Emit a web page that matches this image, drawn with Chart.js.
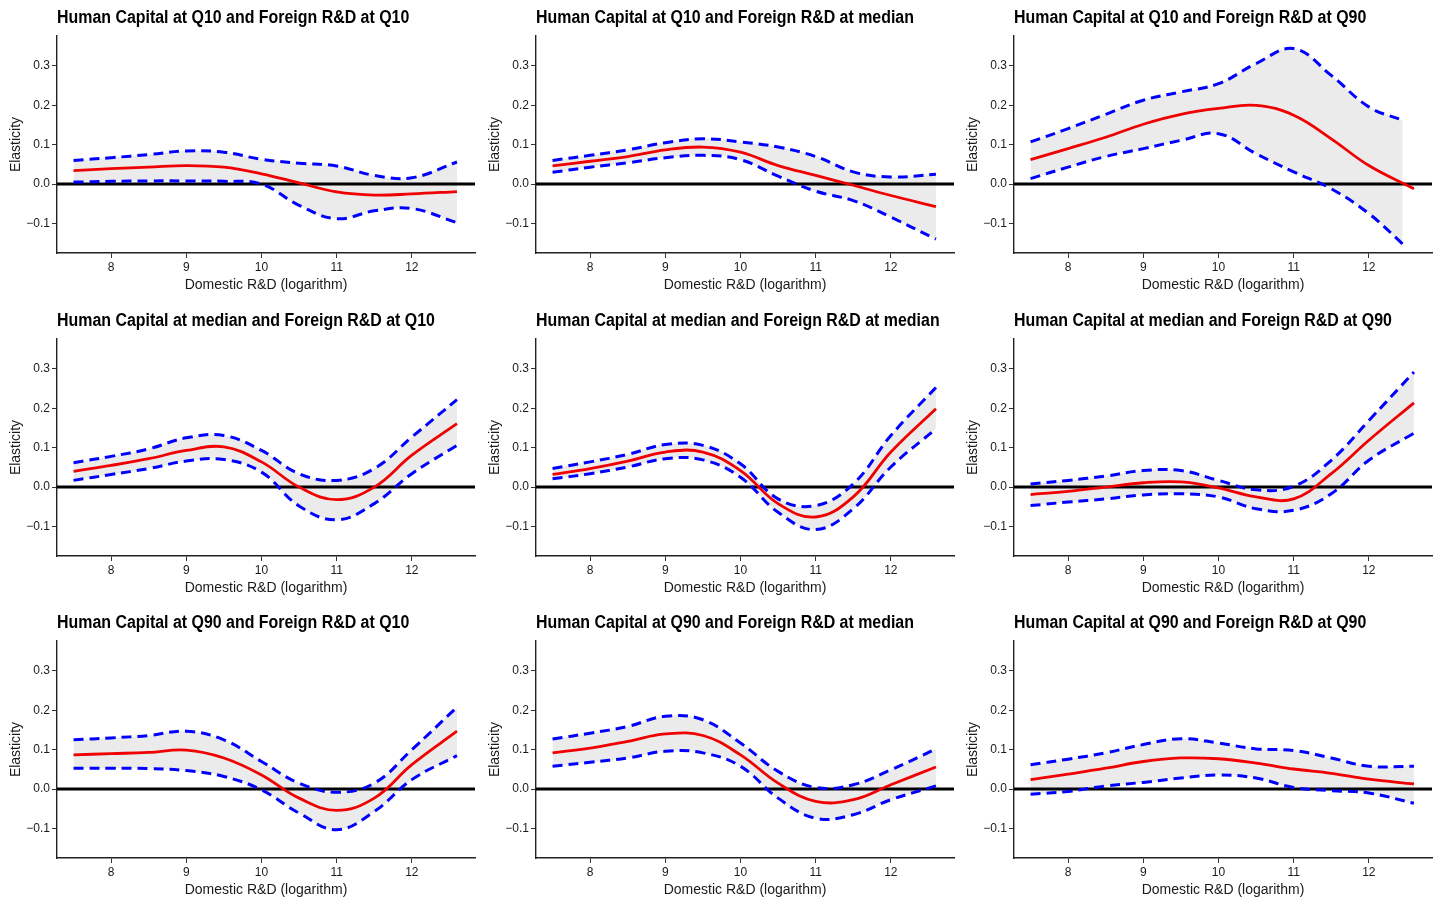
<!DOCTYPE html>
<html>
<head>
<meta charset="utf-8">
<script src="https://cdn.jsdelivr.net/npm/chart.js@4.4.1/dist/chart.umd.min.js"></script>
<style>
  html, body { margin: 0; padding: 0; background: #fff; overflow: hidden; }
  body { position: relative; width: 1442px; height: 904px; }
  canvas { position: absolute; }
</style>
</head>
<body>
<script>
// Domestic R&D grid (logarithm)
const xs = [7.5, 8, 8.5, 9, 9.5, 10, 10.5, 11, 11.5, 12, 12.6]
const xsShort = [7.5, 8, 8.5, 9, 9.5, 10, 10.5, 11, 11.5, 12, 12.45]

const xTicks = [8, 9, 10, 11, 12]
const yTicks = [-0.1, 0.0, 0.1, 0.2, 0.3]

const panelTitles = [
    "Human Capital at Q10 and Foreign R&D at Q10",
    "Human Capital at Q10 and Foreign R&D at median",
    "Human Capital at Q10 and Foreign R&D at Q90",
    "Human Capital at median and Foreign R&D at Q10",
    "Human Capital at median and Foreign R&D at median",
    "Human Capital at median and Foreign R&D at Q90",
    "Human Capital at Q90 and Foreign R&D at Q10",
    "Human Capital at Q90 and Foreign R&D at median",
    "Human Capital at Q90 and Foreign R&D at Q90"
]

// Row 1: Human Capital at Q10
const q10q10Fit = [0.034, 0.039, 0.043, 0.047, 0.043, 0.026, 0.003, -0.020, -0.028, -0.025, -0.019]
const q10q10Upper = [0.060, 0.067, 0.075, 0.084, 0.081, 0.063, 0.053, 0.046, 0.022, 0.016, 0.056]
const q10q10Lower = [0.005, 0.007, 0.008, 0.008, 0.007, 0.000, -0.054, -0.088, -0.068, -0.062, -0.098]

const q10medFit = [0.046, 0.058, 0.070, 0.087, 0.094, 0.081, 0.047, 0.022, -0.003, -0.029, -0.057]
const q10medUpper = [0.060, 0.073, 0.087, 0.105, 0.115, 0.107, 0.094, 0.070, 0.031, 0.018, 0.025]
const q10medLower = [0.030, 0.043, 0.054, 0.067, 0.073, 0.062, 0.020, -0.018, -0.042, -0.084, -0.140]

const q10q90Fit = [0.062, 0.090, 0.119, 0.152, 0.177, 0.192, 0.200, 0.175, 0.115, 0.047, -0.012]
const q10q90Upper = [0.107, 0.141, 0.177, 0.213, 0.234, 0.255, 0.306, 0.344, 0.276, 0.196, 0.162]
const q10q90Lower = [0.014, 0.043, 0.070, 0.090, 0.111, 0.128, 0.077, 0.031, -0.012, -0.075, -0.152]

// Row 2: Human Capital at median
const medq10Fit = [0.040, 0.055, 0.072, 0.093, 0.102, 0.064, 0.000, -0.032, 0.000, 0.081, 0.161]
const medq10Upper = [0.062, 0.078, 0.097, 0.125, 0.131, 0.093, 0.034, 0.017, 0.047, 0.127, 0.222]
const medq10Lower = [0.017, 0.032, 0.047, 0.066, 0.070, 0.038, -0.048, -0.083, -0.042, 0.034, 0.106]

const medmedFit = [0.032, 0.047, 0.066, 0.089, 0.089, 0.042, -0.042, -0.076, -0.025, 0.089, 0.199]
const medmedUpper = [0.047, 0.064, 0.083, 0.108, 0.106, 0.059, -0.030, -0.047, 0.008, 0.131, 0.253]
const medmedLower = [0.021, 0.034, 0.051, 0.072, 0.069, 0.025, -0.064, -0.108, -0.055, 0.051, 0.148]

const medq90Fit = [-0.019, -0.011, 0.000, 0.011, 0.013, -0.002, -0.025, -0.030, 0.034, 0.119, 0.214]
const medq90Upper = [0.008, 0.017, 0.028, 0.042, 0.042, 0.017, -0.007, 0.002, 0.068, 0.169, 0.292]
const medq90Lower = [-0.047, -0.038, -0.030, -0.020, -0.017, -0.025, -0.055, -0.059, -0.017, 0.068, 0.137]

// Row 3: Human Capital at Q90
const q90q10Fit = [0.087, 0.090, 0.093, 0.099, 0.079, 0.036, -0.023, -0.054, -0.023, 0.062, 0.147]
const q90q10Upper = [0.125, 0.130, 0.136, 0.147, 0.125, 0.070, 0.015, -0.008, 0.015, 0.100, 0.208]
const q90q10Lower = [0.053, 0.053, 0.052, 0.047, 0.032, -0.002, -0.061, -0.103, -0.057, 0.024, 0.085]

const q90medFit = [0.092, 0.104, 0.121, 0.140, 0.136, 0.087, 0.015, -0.031, -0.027, 0.011, 0.056]
const q90medUpper = [0.127, 0.142, 0.159, 0.185, 0.176, 0.117, 0.045, 0.004, 0.011, 0.049, 0.102]
const q90medLower = [0.058, 0.068, 0.079, 0.096, 0.092, 0.058, -0.023, -0.074, -0.065, -0.027, 0.008]

const q90q90Fit = [0.024, 0.038, 0.053, 0.070, 0.079, 0.077, 0.066, 0.051, 0.040, 0.025, 0.013]
const q90q90Upper = [0.062, 0.076, 0.092, 0.113, 0.128, 0.117, 0.102, 0.098, 0.079, 0.058, 0.058]
const q90q90Lower = [-0.013, -0.006, 0.008, 0.017, 0.028, 0.036, 0.028, 0.004, -0.004, -0.010, -0.036]

// Axis ranges
const xMin = 7.28, xMax = 12.84
const yMin = -0.175, yMax = 0.376

const panels = [
    [q10q10Fit, q10q10Upper, q10q10Lower, xs],
    [q10medFit, q10medUpper, q10medLower, xs],
    [q10q90Fit, q10q90Upper, q10q90Lower, xsShort],
    [medq10Fit, medq10Upper, medq10Lower, xs],
    [medmedFit, medmedUpper, medmedLower, xs],
    [medq90Fit, medq90Upper, medq90Lower, xs],
    [q90q10Fit, q90q10Upper, q90q10Lower, xs],
    [q90medFit, q90medUpper, q90medLower, xs],
    [q90q90Fit, q90q90Upper, q90q90Lower, xs]
]

const colLeft = [0, 479, 957]
const rowTop = [0, 303, 605]

const baseFont = "'Liberation Sans', Arial, sans-serif"

// Title drawn at the left edge of the plot area, squeezed to a condensed look
const panelTitle = {
    id: "panelTitle",
    afterDraw(chart, args, opts) {
        const ctx = chart.ctx
        ctx.save()
        ctx.font = "bold 18px 'Liberation Sans', Arial, sans-serif"
        ctx.fillStyle = "#000"
        ctx.textBaseline = "alphabetic"
        ctx.translate(chart.chartArea.left, 23)
        ctx.scale(0.885, 1)
        ctx.fillText(opts.text, 0, 0)
        ctx.restore()
    }
}

function toPoints(xv, yv) {
    return xv.map((x, i) => ({ x: x, y: yv[i] }))
}

function fmtTick(v) {
    if (Math.abs(v) < 1e-9) return "0.0"
    return (v < 0 ? "\u2212" : "") + Math.abs(v).toFixed(1)
}

function drawPanel(index) {
    const [fit, upper, lower, bandX] = panels[index]
    const canvas = document.createElement("canvas")
    canvas.width = 479
    canvas.height = 303
    canvas.style.left = colLeft[index % 3] + "px"
    canvas.style.top = rowTop[Math.floor(index / 3)] + "px"
    document.body.appendChild(canvas)

    const data = {
        datasets: [
            {
                data: toPoints(xs, fit),
                borderColor: "#f00000",
                borderWidth: 2.8,
                pointRadius: 0,
                tension: 0.4,
                fill: false
            },
            {
                data: toPoints(bandX, upper),
                borderColor: "#0000ff",
                borderWidth: 3,
                borderDash: [10, 6],
                borderCapStyle: "butt",
                pointRadius: 0,
                tension: 0.4,
                fill: "+1",
                backgroundColor: "#ebebeb"
            },
            {
                data: toPoints(bandX, lower),
                borderColor: "#0000ff",
                borderWidth: 3,
                borderDash: [10, 6],
                borderCapStyle: "butt",
                pointRadius: 0,
                tension: 0.4,
                fill: false
            },
            {
                data: [{ x: xMin, y: 0 }, { x: xMax, y: 0 }],
                borderColor: "#000",
                borderWidth: 3,
                pointRadius: 0,
                fill: false
            }
        ]
    }

    const axisCommon = {
        type: "linear",
        border: { display: true, color: "#222", width: 1.4 },
        grid: { drawOnChartArea: false, drawTicks: true, tickLength: 5, color: "#333", lineWidth: 1 },
        title: { display: true, color: "#1a1a1a", font: { family: baseFont, size: 14 } }
    }

    return new Chart(canvas, {
        type: "line",
        data,
        plugins: [panelTitle],
        options: {
            responsive: false,
            animation: false,
            events: [],
            layout: { padding: { top: 36, right: 4, left: 0, bottom: 0 } },
            plugins: {
                legend: { display: false },
                tooltip: { enabled: false },
                filler: { drawTime: "beforeDatasetsDraw" },
                panelTitle: { text: panelTitles[index] }
            },
            scales: {
                x: {
                    ...axisCommon,
                    min: xMin,
                    max: xMax,
                    afterFit: s => { s.height = 50 },
                    afterBuildTicks: s => { s.ticks = xTicks.map(v => ({ value: v })) },
                    ticks: { padding: 2, maxRotation: 0, color: "#1a1a1a", font: { family: baseFont, size: 12 } },
                    title: { ...axisCommon.title, text: "Domestic R&D (logarithm)", padding: { top: 0, bottom: 9 } }
                },
                y: {
                    ...axisCommon,
                    min: yMin,
                    max: yMax,
                    afterFit: s => { s.width = 57 },
                    afterBuildTicks: s => { s.ticks = yTicks.map(v => ({ value: v })) },
                    ticks: { padding: 2, color: "#1a1a1a", font: { family: baseFont, size: 12 }, callback: v => fmtTick(v) },
                    title: { ...axisCommon.title, text: "Elasticity", padding: { top: 8, bottom: 0 } }
                }
            }
        }
    })
}

for (let i = 0; i < panels.length; i++) {
    drawPanel(i)
}
</script>
</body>
</html>
